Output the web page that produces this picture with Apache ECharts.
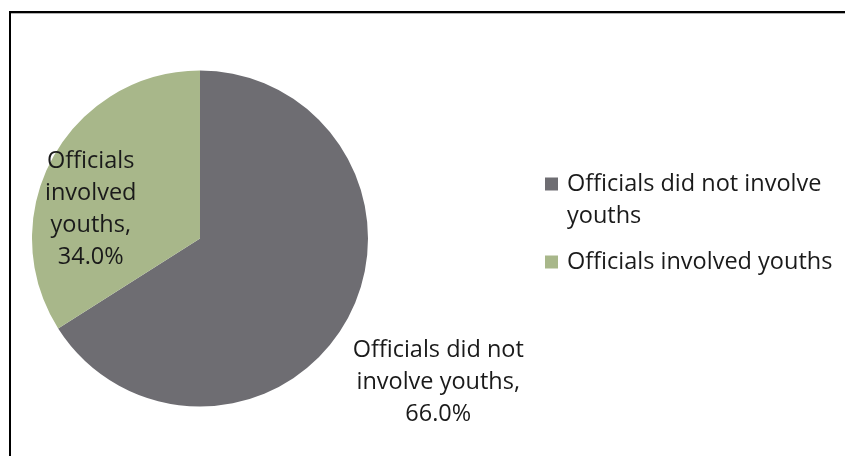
<!DOCTYPE html>
<html>
<head>
<meta charset="utf-8">
<script src="https://cdn.jsdelivr.net/npm/echarts@6/dist/echarts.min.js"></script>
<style>
  html, body { margin: 0; padding: 0; background: #ffffff; }
  #chart { width: 845px; height: 456px; }
</style>
</head>
<body>
<div id="chart"></div>
<script>
// Survey result: did officials involve youths?
const categories = ['Officials did not involve youths', 'Officials involved youths'];
const shares = [66.0, 34.0];
const sliceColors = ['#6e6d72', '#a8b78a'];

const FONT = '"Open Sans"';
const FONT_SIZE = 23.5;
const TEXT_COLOR = '#1a1a1a';

const chart = echarts.init(document.getElementById('chart'), null, { renderer: 'canvas' });

const pieData = categories.map((name, i) => ({
  name: name,
  value: shares[i],
  itemStyle: { color: sliceColors[i] }
}));

// per-slice label placement
pieData[0].label = { position: 'inside', offset: [162, 102] };
pieData[1].label = { position: 'inside', offset: [-33, 13] };

const legendText = { fontFamily: FONT, fontSize: FONT_SIZE, lineHeight: 32, color: TEXT_COLOR, padding: [0, 0, 0, 4] };

chart.setOption({
  animation: false,
  backgroundColor: '#ffffff',
  legend: [
    {
      data: [categories[0]],
      orient: 'vertical',
      left: 545,
      top: 136,
      padding: 0,
      icon: 'rect',
      itemWidth: 13,
      itemHeight: 13,
      itemGap: 0,
      selectedMode: false,
      formatter: () => '\nOfficials did not involve\nyouths',
      textStyle: legendText
    },
    {
      data: [categories[1]],
      orient: 'vertical',
      left: 545,
      top: 246,
      padding: 0,
      icon: 'rect',
      itemWidth: 13,
      itemHeight: 13,
      itemGap: 0,
      selectedMode: false,
      textStyle: legendText
    }
  ],
  series: [{
    type: 'pie',
    center: [200, 238.5],
    radius: 168,
    startAngle: 90,
    clockwise: true,
    silent: true,
    data: pieData,
    labelLine: { show: false },
    label: {
      show: true,
      fontFamily: FONT,
      fontSize: FONT_SIZE,
      lineHeight: 32,
      color: TEXT_COLOR,
      align: 'center',
      formatter: p => {
        const pct = p.value.toFixed(1) + '%';
        return p.dataIndex === 0
          ? 'Officials did not\ninvolve youths,\n' + pct
          : 'Officials\ninvolved\nyouths,\n' + pct;
      }
    },
    emphasis: { disabled: true }
  }],
  graphic: [
    // frame: top edge with a soft shadow, left edge
    { type: 'line', shape: { x1: 9, y1: 13.5, x2: 845, y2: 13.5 }, style: { stroke: '#b0b0b0', lineWidth: 1 } },
    { type: 'line', shape: { x1: 9, y1: 12, x2: 845, y2: 12 }, style: { stroke: '#000000', lineWidth: 2 } },
    { type: 'line', shape: { x1: 10, y1: 11, x2: 10, y2: 456 }, style: { stroke: '#000000', lineWidth: 2 } }
  ]
});
</script>
</body>
</html>
